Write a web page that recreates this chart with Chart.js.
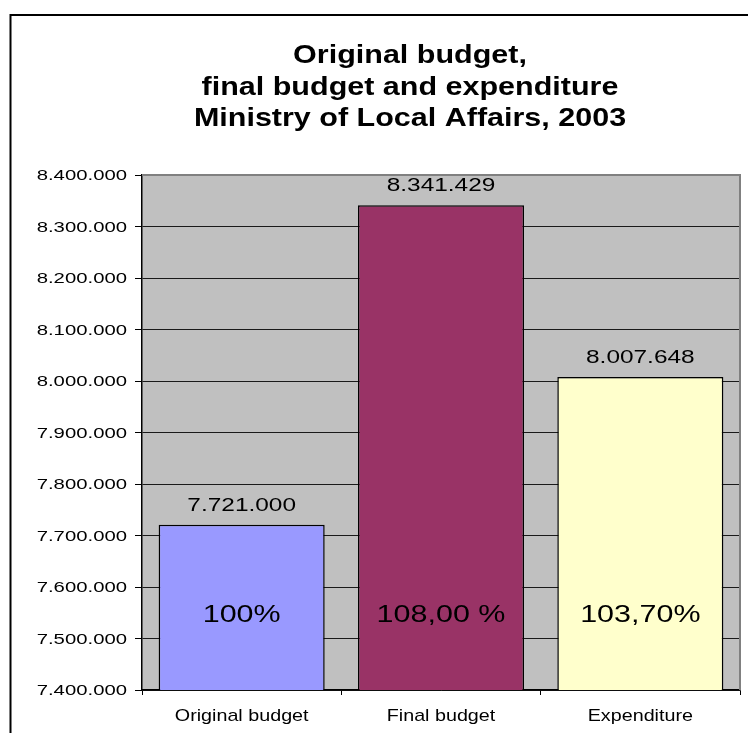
<!DOCTYPE html>
<html>
<head>
<meta charset="utf-8">
<script src="https://cdn.jsdelivr.net/npm/chart.js@4.4.1/dist/chart.umd.min.js"></script>
<style>
  html, body { margin: 0; padding: 0; background: #fff; }
  canvas { display: block; }
</style>
</head>
<body>
<canvas id="budgetChart" width="748" height="733"></canvas>
<script>
// Budget figures
const categories = ['Original budget', 'Final budget', 'Expenditure'];
const amounts = [7721000, 8341429, 8007648];
const shares = ['100%', '108,00 %', '103,70%'];
const barColors = ['#9999FF', '#993366', '#FFFFCC'];
const titleLines = ['Original budget,', 'final budget and expenditure', 'Ministry of Local Affairs, 2003'];
const yMin = 7400000;
const yMax = 8400000;
const yStep = 100000;

const FONT = "'Liberation Sans', Arial, sans-serif";

// 8341429 -> "8.341.429"
function dotted(n) {
    return String(Math.round(n)).replace(/\B(?=(\d{3})+(?!\d))/g, '.');
}

// text drawn a bit wider than the font, like the old spreadsheet export
function wideText(ctx, text, x, y, sx, align) {
    ctx.save();
    ctx.translate(x, y);
    ctx.scale(sx, 1);
    ctx.textAlign = align;
    ctx.textBaseline = 'alphabetic';
    ctx.fillText(text, 0, 0);
    ctx.restore();
}

const frame = {
    id: 'frame',
    beforeDraw(chart) {
        const ctx = chart.ctx;
        const a = chart.chartArea;
        ctx.save();
        ctx.fillStyle = '#fff';
        ctx.fillRect(0, 0, chart.width, chart.height);
        // outer chart border (left and top visible)
        ctx.strokeStyle = '#000';
        ctx.lineWidth = 2;
        ctx.beginPath();
        ctx.moveTo(10.5, chart.height);
        ctx.lineTo(10.5, 15);
        ctx.lineTo(chart.width, 15);
        ctx.stroke();
        // plot area fill
        ctx.fillStyle = '#C0C0C0';
        ctx.fillRect(a.left, a.top, a.right - a.left, a.bottom - a.top);
        ctx.restore();
    },
    beforeDatasetsDraw(chart) {
        const ctx = chart.ctx;
        const a = chart.chartArea;
        ctx.save();
        ctx.strokeStyle = '#808080';
        ctx.lineWidth = 2;
        ctx.beginPath();
        ctx.moveTo(a.left, a.top);
        ctx.lineTo(a.right, a.top);
        ctx.lineTo(a.right, a.bottom);
        ctx.stroke();
        ctx.restore();
    },
    afterDraw(chart) {
        const ctx = chart.ctx;
        const a = chart.chartArea;
        const x = chart.scales.x;
        const y = chart.scales.y;
        ctx.save();
        ctx.fillStyle = '#000';

        // title
        ctx.font = 'bold 25px ' + FONT;
        titleLines.forEach((line, i) => wideText(ctx, line, 410, 63 + i * 31.7, 1.22, 'center'));

        // y tick labels
        ctx.font = '14px ' + FONT;
        y.ticks.forEach((t, i) => {
            wideText(ctx, dotted(t.value), a.left - 15, y.getPixelForTick(i) + 5, 1.45, 'right');
        });

        // category labels
        ctx.font = '17px ' + FONT;
        categories.forEach((c, i) => {
            wideText(ctx, c, x.getPixelForTick(i), a.bottom + 31, 1.16, 'center');
        });

        // values above bars and shares inside
        const bars = chart.getDatasetMeta(0).data;
        bars.forEach((bar, i) => {
            ctx.font = '18.5px ' + FONT;
            wideText(ctx, dotted(amounts[i]), bar.x, bar.y - 14, 1.32, 'center');
            ctx.font = '24px ' + FONT;
            wideText(ctx, shares[i], bar.x, y.getPixelForValue(yMin) - 68, 1.27, 'center');
        });
        ctx.restore();
    }
};

new Chart(document.getElementById('budgetChart').getContext('2d'), {
    type: 'bar',
    data: {
        labels: categories,
        datasets: [{
            data: amounts,
            backgroundColor: barColors,
            borderColor: '#000',
            borderWidth: 1.5,
            borderSkipped: false,
            barPercentage: 0.833,
            categoryPercentage: 1
        }]
    },
    options: {
        responsive: false,
        animation: false,
        layout: { padding: { top: 175, right: 8, left: 0, bottom: 0 } },
        plugins: {
            legend: { display: false },
            tooltip: { enabled: false },
            title: { display: false }
        },
        scales: {
            x: {
                grid: { drawOnChartArea: false, offset: true, tickLength: 5, tickColor: '#000' },
                border: { color: '#000', width: 1.5 },
                ticks: { display: false },
                afterFit(scale) { scale.height = 43; }
            },
            y: {
                min: yMin,
                max: yMax,
                ticks: { stepSize: yStep, display: false },
                grid: { color: '#1a1a1a', lineWidth: 1, tickLength: 7, tickColor: '#000' },
                border: { color: '#000', width: 1.5 },
                afterFit(scale) { scale.width = 142; }
            }
        }
    },
    plugins: [frame]
});
</script>
</body>
</html>
